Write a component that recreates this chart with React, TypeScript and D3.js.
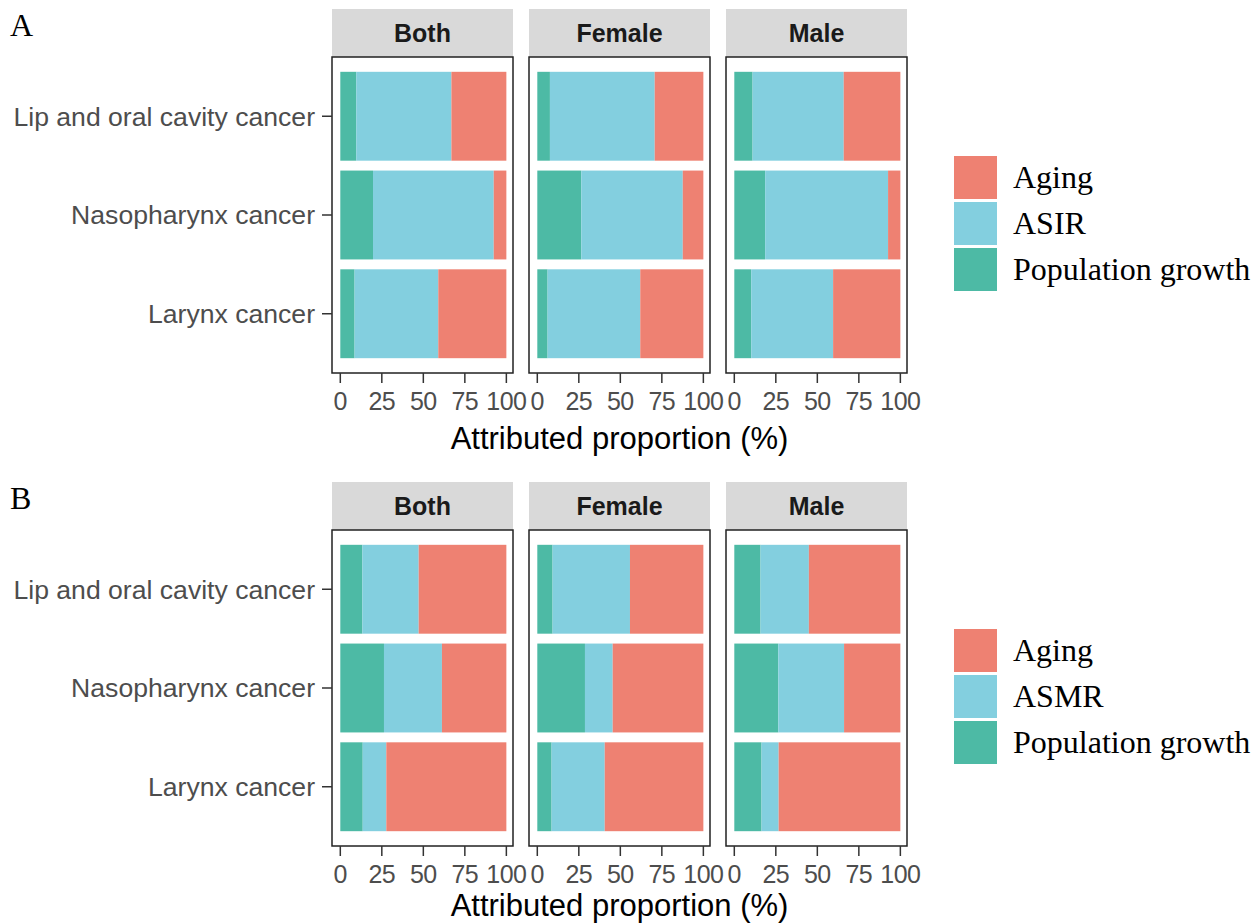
import React, { useEffect, useRef } from 'react';
import * as d3 from 'd3';

// categories
const cancers = ['Lip and oral cavity cancer', 'Nasopharynx cancer', 'Larynx cancer'];
const sexes = ['Both', 'Female', 'Male'];
const xTicks = [0, 25, 50, 75, 100];

// A: incidence decomposition, rows = sex, cols = cancer (%)
const incPopGrowth = [[9.6, 19.7, 8.6], [7.6, 26.5, 6.2], [11.0, 18.6, 10.2]];
const incASIR = [[57.3, 72.7, 50.4], [63.1, 61.1, 55.8], [54.9, 74.0, 49.3]];
const incAging = [[33.1, 7.6, 41.0], [29.3, 12.4, 38.0], [34.1, 7.4, 40.5]];

// B: mortality decomposition
const mortPopGrowth = [[13.3, 26.3, 13.5], [9.2, 28.7, 8.6], [15.8, 26.5, 16.4]];
const mortASMR = [[33.9, 34.9, 14.2], [46.6, 16.7, 32.0], [29.1, 39.6, 10.3]];
const mortAging = [[52.8, 38.8, 72.3], [44.2, 54.6, 59.4], [55.1, 33.9, 73.3]];

const colors = { growth: '#4DBAA5', rate: '#83CFDF', aging: '#EE8172' };
const sans = '"Liberation Sans", Arial, Helvetica, sans-serif';
const serif = '"Liberation Serif", "Times New Roman", serif';

const panelLeft = [332, 529, 726];
const panelWidth = 181;
const panelHeight = 316;
const stripHeight = 48;

function drawBlock(svg, opts) {
  const { top, tag, rateName, growth, rate, aging, titleGap } = opts;
  const panelTop = top + stripHeight;
  const panelBottom = panelTop + panelHeight;
  const keys = ['growth', 'rate', 'aging'];

  const y = d3.scaleBand()
    .domain(cancers)
    .range([panelTop, panelBottom])
    .paddingInner(0.1)
    .paddingOuter(0.15);

  svg.append('text')
    .text(tag)
    .attr('x', 10)
    .attr('y', top + 27)
    .style('font-family', serif)
    .style('font-size', '32px')
    .attr('fill', '#000');

  sexes.forEach((sex, si) => {
    const left = panelLeft[si];
    const x = d3.scaleLinear().domain([-5, 104]).range([left, left + panelWidth]);

    // strip
    svg.append('rect')
      .attr('x', left).attr('y', top)
      .attr('width', panelWidth).attr('height', stripHeight)
      .attr('fill', '#D9D9D9');
    svg.append('text')
      .text(sex)
      .attr('x', left + panelWidth / 2)
      .attr('y', top + stripHeight / 2 + 9)
      .attr('text-anchor', 'middle')
      .style('font-family', sans)
      .style('font-size', '25px')
      .style('font-weight', 'bold')
      .attr('fill', '#1A1A1A');

    const rows = cancers.map((c, ci) => ({
      cancer: c,
      growth: growth[si][ci],
      rate: rate[si][ci],
      aging: aging[si][ci]
    }));
    const series = d3.stack().keys(keys)(rows);

    series.forEach((s) => {
      svg.append('g')
        .selectAll('rect')
        .data(s)
        .enter()
        .append('rect')
        .attr('x', (d) => x(d[0]))
        .attr('width', (d) => x(d[1]) - x(d[0]))
        .attr('y', (d) => y(d.data.cancer))
        .attr('height', y.bandwidth())
        .attr('fill', colors[s.key]);
    });

    // panel border
    svg.append('rect')
      .attr('x', left).attr('y', panelTop)
      .attr('width', panelWidth).attr('height', panelHeight)
      .attr('fill', 'none')
      .attr('stroke', '#222')
      .attr('stroke-width', 1.5);

    // x axis
    const xAxis = svg.append('g');
    xTicks.forEach((t) => {
      xAxis.append('line')
        .attr('x1', x(t)).attr('x2', x(t))
        .attr('y1', panelBottom).attr('y2', panelBottom + 10)
        .attr('stroke', '#333').attr('stroke-width', 1.5);
      xAxis.append('text')
        .text(t)
        .attr('x', x(t))
        .attr('y', panelBottom + 37)
        .attr('text-anchor', 'middle')
        .style('font-family', sans)
        .style('font-size', '25px')
        .style('letter-spacing', '-0.5px')
        .attr('fill', '#4D4D4D');
    });
  });

  // y axis on first panel
  cancers.forEach((c) => {
    const cy = y(c) + y.bandwidth() / 2;
    svg.append('line')
      .attr('x1', panelLeft[0] - 10).attr('x2', panelLeft[0])
      .attr('y1', cy).attr('y2', cy)
      .attr('stroke', '#333').attr('stroke-width', 1.5);
    svg.append('text')
      .text(c)
      .attr('x', panelLeft[0] - 17)
      .attr('y', cy)
      .attr('dy', '0.35em')
      .attr('text-anchor', 'end')
      .style('font-family', sans)
      .style('font-size', '26.6px')
      .attr('fill', '#4D4D4D');
  });

  svg.append('text')
    .text('Attributed proportion (%)')
    .attr('x', (panelLeft[0] + panelLeft[2] + panelWidth) / 2)
    .attr('y', panelBottom + titleGap)
    .attr('text-anchor', 'middle')
    .style('font-family', sans)
    .style('font-size', '31px')
    .attr('fill', '#000');

  // legend
  const legend = [
    { key: 'aging', label: 'Aging' },
    { key: 'rate', label: rateName },
    { key: 'growth', label: 'Population growth' }
  ];
  legend.forEach((item, i) => {
    const ky = top + 147 + i * 46;
    svg.append('rect')
      .attr('x', 954).attr('y', ky)
      .attr('width', 43).attr('height', 43)
      .attr('fill', colors[item.key]);
    svg.append('text')
      .text(item.label)
      .attr('x', 1013)
      .attr('y', ky + 21.5)
      .attr('dy', '0.33em')
      .style('font-family', serif)
      .style('font-size', '32px')
      .attr('fill', '#000');
  });
}

export default function App() {
  const ref = useRef(null);

  useEffect(() => {
    const svg = d3.select(ref.current);
    svg.selectAll('*').remove();
    svg.append('rect').attr('width', 1253).attr('height', 924).attr('fill', '#fff');
    drawBlock(svg, {
      top: 9, tag: 'A', rateName: 'ASIR', titleGap: 76,
      growth: incPopGrowth, rate: incASIR, aging: incAging
    });
    drawBlock(svg, {
      top: 482, tag: 'B', rateName: 'ASMR', titleGap: 70,
      growth: mortPopGrowth, rate: mortASMR, aging: mortAging
    });
  }, []);

  return (
    <svg
      ref={ref}
      width={1253}
      height={924}
      style={{ position: 'absolute', left: 0, top: 0, display: 'block' }}
    />
  );
}
